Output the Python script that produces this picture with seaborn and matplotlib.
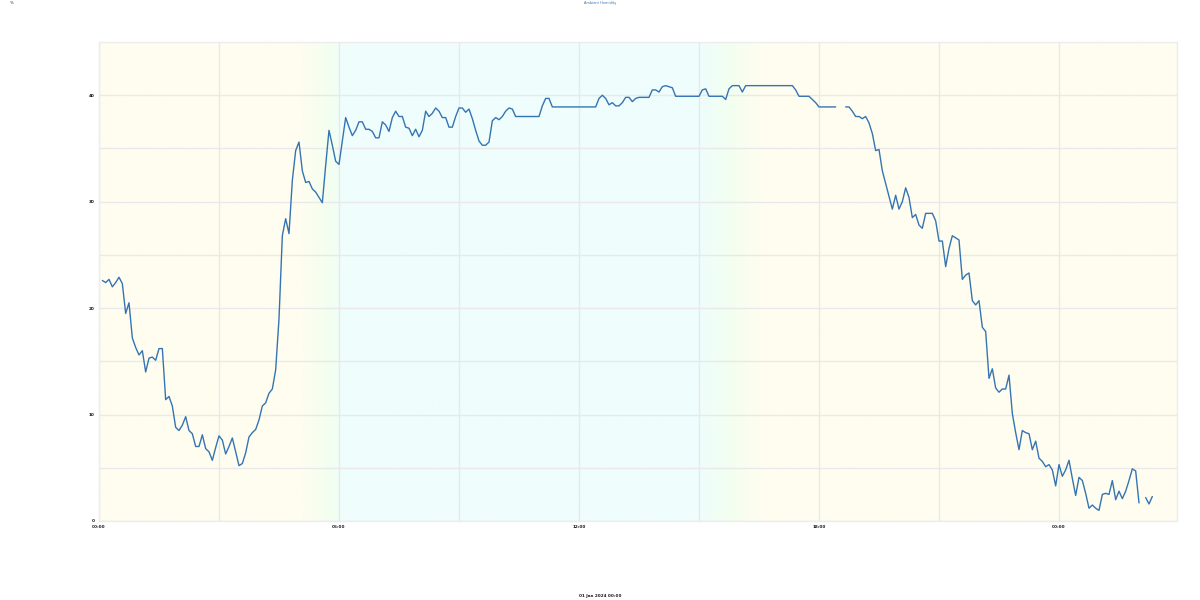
import numpy as np
import pandas as pd
import matplotlib
matplotlib.use("Agg")
import matplotlib.pyplot as plt
import matplotlib.dates as mdates
from matplotlib.colors import LinearSegmentedColormap
import seaborn as sns

# ---------------- data ----------------
start_time = "2024-01-01 00:05"
step = "5min"
values = [
    22.6, 22.4, 22.7, 22.0, 22.4, 22.9, 22.3, 19.5, 20.5, 17.2,
    16.3, 15.6, 16.0, 14.0, 15.3, 15.4, 15.1, 16.2, 16.2, 11.4,
    11.7, 10.8, 8.8, 8.5, 9.0, 9.8, 8.5, 8.2, 7.0, 7.0,
    8.1, 6.8, 6.5, 5.7, 6.9, 8.0, 7.6, 6.3, 7.0, 7.8,
    6.5, 5.2, 5.4, 6.4, 7.9, 8.3, 8.6, 9.5, 10.8, 11.1,
    12.0, 12.4, 14.2, 19.0, 26.8, 28.4, 27.0, 32.0, 34.8, 35.6,
    32.9, 31.8, 31.9, 31.2, 30.9, 30.4, 29.9, 33.4, 36.7, 35.3,
    33.8, 33.5, 35.7, 37.9, 37.0, 36.2, 36.7, 37.5, 37.5, 36.8,
    36.8, 36.6, 36.0, 36.0, 37.5, 37.2, 36.6, 37.9, 38.5, 38.0,
    38.0, 37.0, 36.9, 36.2, 36.8, 36.1, 36.7, 38.5, 38.0, 38.3,
    38.8, 38.5, 37.9, 37.9, 37.0, 37.0, 38.0, 38.8, 38.8, 38.4,
    38.7, 37.8, 36.7, 35.7, 35.3, 35.3, 35.6, 37.6, 37.9, 37.7,
    38.0, 38.5, 38.8, 38.7, 38.0, 38.0, 38.0, 38.0, 38.0, 38.0,
    38.0, 38.0, 39.0, 39.7, 39.7, 38.9, 38.9, 38.9, 38.9, 38.9,
    38.9, 38.9, 38.9, 38.9, 38.9, 38.9, 38.9, 38.9, 38.9, 39.7,
    40.0, 39.7, 39.1, 39.3, 39.0, 39.0, 39.3, 39.8, 39.8, 39.4,
    39.7, 39.8, 39.8, 39.8, 39.8, 40.5, 40.5, 40.3, 40.8, 40.9,
    40.8, 40.7, 39.9, 39.9, 39.9, 39.9, 39.9, 39.9, 39.9, 39.9,
    40.5, 40.6, 39.9, 39.9, 39.9, 39.9, 39.9, 39.6, 40.6, 40.9,
    40.9, 40.9, 40.3, 40.9, 40.9, 40.9, 40.9, 40.9, 40.9, 40.9,
    40.9, 40.9, 40.9, 40.9, 40.9, 40.9, 40.9, 40.9, 40.5, 39.9,
    39.9, 39.9, 39.9, 39.6, 39.3, 38.9, 38.9, 38.9, 38.9, 38.9,
    38.9, None, None, 38.9, 38.9, 38.5, 38.0, 38.0, 37.8, 38.0,
    37.4, 36.4, 34.8, 34.9, 32.9, 31.7, 30.5, 29.3, 30.6, 29.3,
    30.0, 31.3, 30.4, 28.5, 28.8, 27.8, 27.5, 28.9, 28.9, 28.9,
    28.2, 26.3, 26.3, 23.9, 25.6, 26.8, 26.6, 26.4, 22.7, 23.1,
    23.3, 20.7, 20.3, 20.7, 18.2, 17.8, 13.4, 14.3, 12.5, 12.1,
    12.4, 12.4, 13.7, 10.1, 8.3, 6.7, 8.5, 8.3, 8.2, 6.7,
    7.5, 5.9, 5.6, 5.1, 5.3, 4.8, 3.3, 5.3, 4.2, 4.8,
    5.7, 4.0, 2.4, 4.1, 3.8, 2.6, 1.2, 1.5, 1.2, 1.0,
    2.5, 2.6, 2.5, 3.8, 2.0, 2.8, 2.1, 2.8, 3.8, 4.9,
    4.7, 1.7, None, 2.2, 1.6, 2.3,
]
title_text = "Ambient Humidity"
x_label = "01 Jan 2024 00:00"
corner_text = "%"
y_ticks = [0, 10, 20, 30, 40]
y_max = 45
x_span_hours = 26.95
# background day/night colours (position along axis, colour)
bg_stops = [(0.00, "#fffdef"), (0.185, "#fffdef"), (0.215, "#f2fff0"),
            (0.225, "#effdfd"), (0.555, "#effdfd"), (0.585, "#f2fff0"),
            (0.615, "#fffdef"), (1.00, "#fffdef")]

# ---------------- frame ----------------
times = pd.date_range(start_time, periods=len(values), freq=step)
vals = pd.Series(values, dtype=float)
seg = vals.isna().cumsum()
df = pd.DataFrame({"t": times, "v": vals, "seg": seg}).dropna()

sns.set_theme(style="white")
fig = plt.figure(figsize=(12, 6), dpi=100)
ax = fig.add_axes([99 / 1200, 79 / 600, 1078 / 1200, 479 / 600])

t0 = pd.Timestamp("2024-01-01 00:00")
t1 = t0 + pd.Timedelta(hours=x_span_hours)

# gradient background
cmap = LinearSegmentedColormap.from_list("bg", bg_stops)
grad = np.linspace(0, 1, 512).reshape(1, -1)
ax.imshow(grad, aspect="auto", cmap=cmap, extent=[mdates.date2num(t0), mdates.date2num(t1), 0, y_max],
          zorder=0, interpolation="bilinear")

sns.lineplot(data=df, x="t", y="v", units="seg", estimator=None, color="#3574b3",
             linewidth=1.0, ax=ax, zorder=3)

ax.set_xlim(t0, t1)
ax.set_ylim(0, y_max)
ax.xaxis.set_major_locator(mdates.HourLocator(byhour=[0, 6, 12, 18]))
ax.xaxis.set_minor_locator(mdates.HourLocator(byhour=[3, 9, 15, 21]))
ax.xaxis.set_major_formatter(mdates.DateFormatter("%H:%M"))
ax.set_yticks(y_ticks)
ax.set_yticks([5, 15, 25, 35], minor=True)
ax.set_yticklabels([str(v) for v in y_ticks])

ax.grid(True, which="both", color="#e9e9e9", linewidth=1.0, zorder=1)
for line in ax.get_xgridlines() + ax.get_ygridlines():
    line.set_zorder(1)
for s in ax.spines.values():
    s.set_color("#ededed")
    s.set_linewidth(1.0)

ax.tick_params(axis="both", which="both", length=0, labelsize=3, colors="#1a1a1a", pad=3)
for lab in ax.get_xticklabels() + ax.get_yticklabels():
    lab.set_fontweight("bold")
ax.set_xlabel("")
ax.set_ylabel("")

fig.text(0.5, 0.004, x_label, ha="center", va="bottom", fontsize=3, color="#1a1a1a", fontweight="bold")
fig.text(0.5, 0.999, title_text, ha="center", va="top", fontsize=2.5, color="#3574b3")
fig.text(0.008, 0.999, corner_text, ha="left", va="top", fontsize=3, color="#333333")

fig.savefig("out.png", dpi=100)
